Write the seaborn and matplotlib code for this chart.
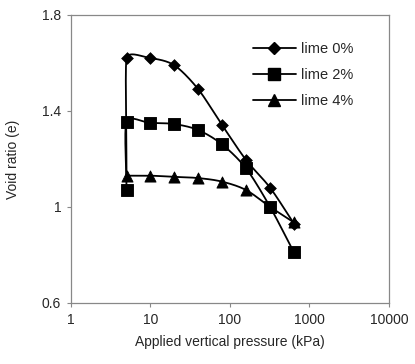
import numpy as np
import pandas as pd
import matplotlib
matplotlib.use('Agg')
import matplotlib.pyplot as plt
from matplotlib.lines import Line2D
import seaborn as sns

# applied vertical pressure (kPa), first point is the initial state
pressure = [5, 5, 10, 20, 40, 80, 160, 320, 640]
e_lime0 = [1.13, 1.62, 1.62, 1.59, 1.49, 1.34, 1.195, 1.08, 0.93]
e_lime2 = [1.07, 1.355, 1.35, 1.345, 1.32, 1.26, 1.16, 1.00, 0.81]
e_lime4 = [1.13, 1.13, 1.125, 1.12, 1.105, 1.07, 1.00, 0.935]
pressure4 = [5, 10, 20, 40, 80, 160, 320, 640]
labels = ['lime 0%', 'lime 2%', 'lime 4%']
markers = ['D', 's', '^']
msizes = [6, 8, 8]

sns.set_style('white')
plt.rcParams['font.family'] = ['Liberation Sans', 'DejaVu Sans']

fig = plt.figure(figsize=(4.15, 3.64), dpi=100)
ax = fig.add_axes([0.171, 0.168, 0.766, 0.791])
ax.set_xscale('log')
ax.set_xlim(1, 10000)
ax.set_ylim(0.6, 1.8)

W, H = 318.0, 288.0


def smooth(xs, ys, n=30):
    # smoothed line like excel: bezier through points, in screen space
    px = np.log10(xs) / 4 * W
    py = (np.array(ys) - 0.6) / 1.2 * H
    P = np.column_stack([px, py])
    L = np.hypot(*np.diff(P, axis=0).T)
    out = [P[0]]

    def unit(v):
        n_ = np.hypot(*v)
        return v / n_ if n_ > 0 else v

    for i in range(len(P) - 1):
        p0 = P[i - 1] if i > 0 else P[i]
        p3 = P[i + 2] if i + 2 < len(P) else P[i + 1]
        p1, p2 = P[i], P[i + 1]
        l1 = min(L[i], L[i - 1]) if i > 0 else L[i]
        l2 = min(L[i], L[i + 1]) if i + 1 < len(L) else L[i]
        c1 = p1 + unit(p2 - p0) * l1 / 3
        c2 = p2 - unit(p3 - p1) * l2 / 3
        t = np.linspace(0, 1, n)[1:, None]
        b = ((1 - t) ** 3) * p1 + 3 * ((1 - t) ** 2) * t * c1 + 3 * (1 - t) * t * t * c2 + t ** 3 * p2
        out.extend(b)
    out = np.array(out)
    return 10 ** (out[:, 0] / W * 4), out[:, 1] / H * 1.2 + 0.6


series = [(pressure, e_lime0, 1), (pressure, e_lime2, 0), (pressure4, e_lime4, 0)]
for (xs, ys, skip), lab, mk, ms in zip(series, labels, markers, msizes):
    sx, sy = smooth(xs, ys)
    sns.lineplot(x=sx, y=sy, sort=False, color='black', lw=1.3, ax=ax,
                 estimator=None)
    df = pd.DataFrame({'p': xs[skip:], 'e': ys[skip:]})
    sns.scatterplot(data=df, x='p', y='e', marker=mk, s=ms ** 2, color='black',
                    edgecolor='black', ax=ax, zorder=3)

ax.set_xticks([1, 10, 100, 1000, 10000])
ax.set_xticklabels(['1', '10', '100', '1000', '10000'])
ax.minorticks_off()
ax.set_yticks([0.6, 1.0, 1.4, 1.8])
ax.set_yticklabels(['0.6', '1', '1.4', '1.8'])
ax.tick_params(direction='out', length=3, width=0.8, color='#888888',
               labelsize=10, bottom=True, left=True, pad=4)
for sp in ax.spines.values():
    sp.set_color('#888888')
    sp.set_linewidth(0.9)

ax.set_xlabel('Applied vertical pressure (kPa)', fontsize=10, labelpad=6)
ax.set_ylabel('Void ratio (e)', fontsize=10, labelpad=16)

handles = [Line2D([], [], color='black', lw=1.3, marker=m, markersize=s)
           for m, s in zip(markers, msizes)]
ax.legend(handles, labels, loc='upper left', bbox_to_anchor=(0.53, 0.95),
          frameon=False, fontsize=10.5, handlelength=3.0, handletextpad=0.3,
          labelspacing=0.8)

fig.savefig('out.png', dpi=100)
